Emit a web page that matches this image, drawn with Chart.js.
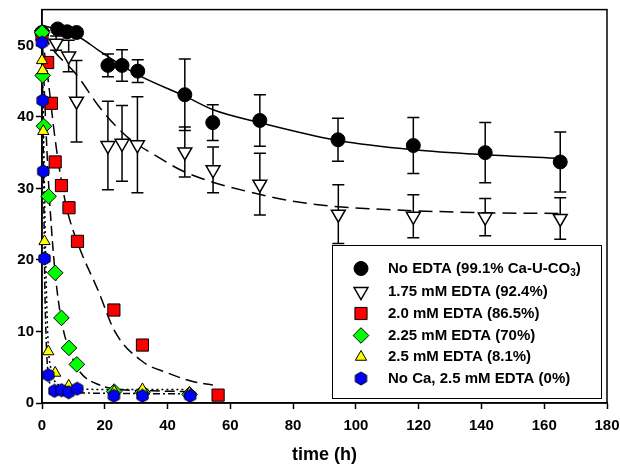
<!DOCTYPE html>
<html>
<head>
<meta charset="utf-8">
<script src="https://cdn.jsdelivr.net/npm/chart.js@4"></script>
<style>
  html, body { margin: 0; padding: 0; background: #fff; }
  #wrap { width: 620px; height: 470px; }
</style>
</head>
<body>
<div id="wrap"><canvas id="chart" width="620" height="470"></canvas></div>
<script>
const noEdtaT = [0, 5, 8, 11, 21, 25.5, 30.5, 45.5, 54.4, 69.4, 94.3, 118.3, 141.2, 165.1];
const noEdtaY = [51.8, 52.3, 51.9, 51.8, 47.2, 47.2, 46.4, 43.1, 39.2, 39.5, 36.8, 36.0, 35.0, 33.7];
const noEdtaErr = [0.5, 0.5, 0.5, 0.5, 1.6, 2.2, 1.6, 5.0, 2.5, 3.6, 3.0, 3.9, 4.2, 4.2];

const edta175T = [0, 4.5, 8.5, 11, 21, 25.5, 30.4, 45.5, 54.5, 69.4, 94.4, 118.3, 141.2, 165.1];
const edta175Y = [51.5, 50.3, 48.5, 42.2, 36.0, 36.3, 36.1, 35.1, 32.6, 30.6, 26.4, 26.1, 26.0, 25.8];
const edta175Err = [0.5, 1.0, 2.2, 5.7, 6.2, 5.3, 6.7, 3.5, 3.2, 4.3, 4.1, 3.0, 2.6, 2.9];

const edta20T = [0, 1.8, 3, 4.2, 6.2, 8.6, 11.3, 22.9, 32, 56.1];
const edta20Y = [51.5, 47.6, 41.9, 33.7, 30.4, 27.3, 22.6, 13.0, 8.1, 1.1];

const edta225T = [0, 0.2, 0.6, 2.1, 4.2, 6.2, 8.6, 11.1, 23, 32, 47];
const edta225Y = [51.8, 45.8, 38.7, 28.9, 18.2, 11.9, 7.7, 5.4, 1.6, 1.5, 1.2];

const edta25T = [0, 0.2, 0.4, 0.8, 2.0, 4.2, 8.5, 23, 32, 47];
const edta25Y = [47.9, 46.5, 38.0, 22.6, 7.2, 4.2, 2.4, 1.6, 1.9, 1.4];

const noCaT = [0, 0.2, 0.4, 0.8, 2.0, 4.0, 6.2, 8.5, 11.2, 22.9, 32, 47.2];
const noCaY = [50.4, 42.3, 32.4, 20.2, 3.9, 1.7, 1.8, 1.5, 2.0, 1.0, 1.0, 1.0];

// fitted curves
const noEdtaFitT = [0, 5, 12, 18.4, 30.4, 45.5, 54.5, 69.4, 94.4, 118.3, 141.2, 165.1];
const noEdtaFitY = [52.8, 52.2, 51.1, 49.2, 45.9, 42.9, 41.0, 39.2, 36.7, 35.4, 34.7, 34.2];

const edta175FitT = [0, 3.5, 11, 18.4, 26.9, 36.5, 45, 53.5, 65.2, 80, 92.8, 111.8, 141, 166];
const edta175FitY = [51.8, 49.4, 45.9, 41.3, 37.3, 34.5, 32.4, 31.0, 29.6, 28.2, 27.5, 27.0, 26.6, 26.5];

const edta20FitT = [0, 2, 4, 6, 8, 11.5, 18, 23.2, 32, 40, 48, 54.5];
const edta20FitY = [51.5, 45, 37.5, 31.5, 27, 22.2, 15.6, 10.0, 5.8, 4.2, 3.0, 2.5];

const edta225FitT = [0, 1, 2, 3, 4, 5, 6.5, 8.8, 12, 18.4, 25, 35, 47];
const edta225FitY = [52, 41, 31.5, 24.5, 19, 15, 10.8, 7.3, 4.4, 2.5, 1.9, 1.7, 1.6];

const edta25FitT = [0, 0.5, 1, 1.5, 2, 3, 5, 10, 20, 47];
const edta25FitY = [52, 38, 24, 14, 8, 4.5, 2.6, 2.0, 1.9, 1.9];

const noCaFitT = [0, 0.25, 0.5, 0.75, 1, 1.5, 2, 3, 5, 47];
const noCaFitY = [50.5, 42, 32, 21, 14, 7, 4, 2.2, 1.5, 1.3];

const legendLabels = [
  'No EDTA (99.1% Ca-U-CO_3)',
  '1.75 mM EDTA (92.4%)',
  '2.0 mM EDTA (86.5%)',
  '2.25 mM EDTA (70%)',
  '2.5 mM EDTA (8.1%)',
  'No Ca, 2.5 mM EDTA (0%)',
];

const xTicksMax = 180;
const yTicksMax = 50;

const FONT = 'Arial, "Liberation Sans", sans-serif';

function pairs(xs, ys) {
  return xs.map((x, i) => ({ x, y: ys[i] }));
}

function hexagonImage(size, fill) {
  const c = document.createElement('canvas');
  c.width = size;
  c.height = size;
  const g = c.getContext('2d');
  const r = size / 2 - 1;
  g.beginPath();
  for (let i = 0; i < 6; i++) {
    const a = Math.PI / 2 + i * Math.PI / 3;
    const px = size / 2 + r * Math.cos(a);
    const py = size / 2 - r * Math.sin(a);
    if (i === 0) g.moveTo(px, py); else g.lineTo(px, py);
  }
  g.closePath();
  g.fillStyle = fill;
  g.fill();
  g.lineWidth = 1;
  g.strokeStyle = '#000';
  g.stroke();
  return c;
}

const hexBlue = hexagonImage(15, '#0000ff');

function markerSet(label, xs, ys, style, extra) {
  return Object.assign({
    label,
    data: pairs(xs, ys),
    showLine: false,
    pointStyle: style,
    borderColor: '#000',
    pointBorderWidth: 1,
    clip: false,
  }, extra);
}

function fitSet(xs, ys, dash) {
  return {
    label: 'fit',
    data: pairs(xs, ys),
    showLine: true,
    pointRadius: 0,
    borderColor: '#000',
    borderWidth: 1.5,
    borderDash: dash,
    cubicInterpolationMode: 'monotone',
    order: 10,
  };
}

const markerSets = [
  markerSet(legendLabels[0], noEdtaT, noEdtaY, 'circle',
    { backgroundColor: '#000', pointRadius: 7, errors: noEdtaErr, order: 6 }),
  markerSet(legendLabels[1], edta175T, edta175Y, 'triangle',
    { backgroundColor: '#fff', pointRadius: 8, rotation: 180, pointBorderWidth: 1.5, errors: edta175Err, order: 5 }),
  markerSet(legendLabels[2], edta20T, edta20Y, 'rect',
    { backgroundColor: '#ff0000', pointRadius: 8.6, order: 4 }),
  markerSet(legendLabels[3], edta225T, edta225Y, 'rectRot',
    { backgroundColor: '#00ff00', pointRadius: 7.8, order: 3 }),
  markerSet(legendLabels[4], edta25T, edta25Y, 'triangle',
    { backgroundColor: '#ffff00', pointRadius: 6.5, order: 2 }),
  markerSet(legendLabels[5], noCaT, noCaY, hexBlue,
    { backgroundColor: '#0000ff', pointRadius: 7, order: 1 }),
];

const fitSets = [
  fitSet(noEdtaFitT, noEdtaFitY, []),
  fitSet(edta175FitT, edta175FitY, [14, 7]),
  fitSet(edta20FitT, edta20FitY, [12, 6]),
  fitSet(edta225FitT, edta225FitY, [10, 5]),
  fitSet(edta25FitT, edta25FitY, [2, 3]),
  fitSet(noCaFitT, noCaFitY, [7, 3, 2, 3]),
];

const framePlugin = {
  id: 'frame',
  beforeDatasetsDraw(chart) {
    const { ctx, chartArea: a } = chart;
    ctx.save();
    ctx.strokeStyle = '#000';
    ctx.lineWidth = 1.5;
    ctx.strokeRect(a.left, a.top, a.right - a.left, a.bottom - a.top);
    ctx.restore();
  },
};

const errorBarPlugin = {
  id: 'errorBars',
  beforeDatasetsDraw(chart) {
    const { ctx } = chart;
    const xs = chart.scales.x;
    const ys = chart.scales.y;
    ctx.save();
    ctx.strokeStyle = '#000';
    ctx.lineWidth = 1.5;
    chart.data.datasets.forEach((ds) => {
      if (!ds.errors) return;
      ds.data.forEach((p, i) => {
        const e = ds.errors[i];
        const px = xs.getPixelForValue(p.x);
        const top = ys.getPixelForValue(p.y + e);
        const bot = ys.getPixelForValue(p.y - e);
        ctx.beginPath();
        ctx.moveTo(px, top);
        ctx.lineTo(px, bot);
        ctx.moveTo(px - 6, top);
        ctx.lineTo(px + 6, top);
        ctx.moveTo(px - 6, bot);
        ctx.lineTo(px + 6, bot);
        ctx.stroke();
      });
    });
    ctx.restore();
  },
};

const boxLegendPlugin = {
  id: 'boxLegend',
  afterDraw(chart) {
    const { ctx } = chart;
    const left = 332, top = 245, width = 269, height = 153;
    const symX = 361, textX = 388;
    const rows = [268.5, 291.5, 313.5, 335.5, 357, 378.5];
    ctx.save();
    ctx.fillStyle = '#fff';
    ctx.fillRect(left, top, width, height);
    ctx.strokeStyle = '#000';
    ctx.lineWidth = 1;
    ctx.strokeRect(left + 0.5, top + 0.5, width, height);

    markerSets.forEach((ds, i) => {
      const y = rows[i];
      ctx.fillStyle = ds.backgroundColor;
      ctx.strokeStyle = '#000';
      ctx.lineWidth = ds.pointBorderWidth;
      Chart.helpers.drawPoint(ctx, {
        pointStyle: ds.pointStyle,
        rotation: ds.rotation || 0,
        radius: ds.pointRadius,
        borderWidth: ds.pointBorderWidth,
      }, symX, y);

      ctx.fillStyle = '#000';
      ctx.textBaseline = 'middle';
      ctx.textAlign = 'left';
      const m = ds.label.match(/^(.*)_(\d)(.*)$/);
      ctx.font = 'bold 15px ' + FONT;
      if (m) {
        ctx.fillText(m[1], textX, y);
        let x = textX + ctx.measureText(m[1]).width;
        ctx.font = 'bold 10px ' + FONT;
        ctx.fillText(m[2], x, y + 5);
        x += ctx.measureText(m[2]).width;
        ctx.font = 'bold 15px ' + FONT;
        ctx.fillText(m[3], x, y);
      } else {
        ctx.fillText(ds.label, textX, y);
      }
    });
    ctx.restore();
  },
};

new Chart(document.getElementById('chart'), {
  type: 'scatter',
  data: { datasets: [...markerSets, ...fitSets] },
  options: {
    responsive: false,
    animation: false,
    layout: { padding: { top: 9, right: 13, left: 0, bottom: 0 } },
    plugins: {
      legend: { display: false },
      tooltip: { enabled: false },
    },
    scales: {
      x: {
        type: 'linear',
        min: 0,
        max: xTicksMax,
        afterFit(scale) {
          scale.height = 67;
          scale.paddingLeft = 0;
          scale.paddingRight = 0;
        },
        ticks: {
          stepSize: 20,
          color: '#000',
          padding: 8,
          maxRotation: 0,
          font: { family: FONT, size: 15, weight: 'bold' },
        },
        grid: {
          display: true,
          drawOnChartArea: false,
          drawTicks: true,
          tickLength: 6,
          tickColor: '#000',
          tickWidth: 1.5,
        },
        border: { display: true, color: '#000', width: 1.5 },
        title: {
          display: true,
          text: 'time (h)',
          color: '#000',
          font: { family: FONT, size: 18, weight: 'bold' },
          padding: { top: 0, bottom: 4 },
        },
      },
      y: {
        type: 'linear',
        min: 0,
        max: 55,
        afterFit(scale) {
          scale.width = 42;
          scale.paddingTop = 0;
          scale.paddingBottom = 0;
        },
        afterBuildTicks(scale) {
          scale.ticks = scale.ticks.filter((t) => t.value <= yTicksMax);
        },
        ticks: {
          stepSize: 10,
          color: '#000',
          padding: 2,
          font: { family: FONT, size: 15, weight: 'bold' },
        },
        grid: {
          display: true,
          drawOnChartArea: false,
          drawTicks: true,
          tickLength: 6,
          tickColor: '#000',
          tickWidth: 1.5,
        },
        border: { display: true, color: '#000', width: 1.5 },
      },
    },
  },
  plugins: [framePlugin, errorBarPlugin, boxLegendPlugin],
});
</script>
</body>
</html>
